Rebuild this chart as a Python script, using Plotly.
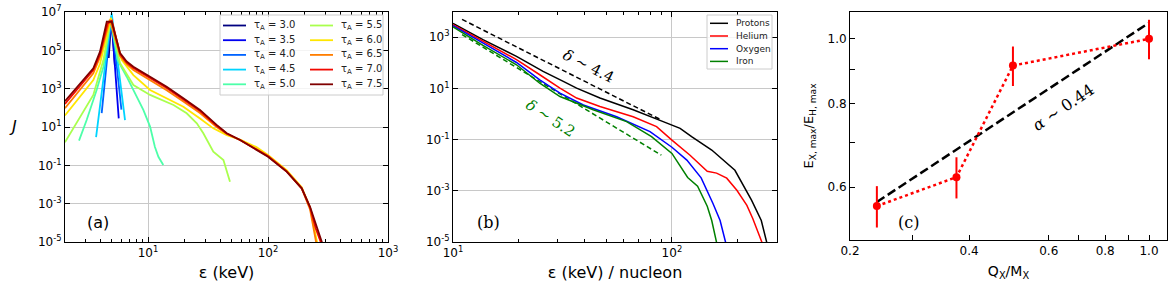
import plotly.graph_objects as go

W, H = 1172, 287

# ---------------- Panel (a): spectra at different tau_A ----------------
tau_labels = ["3.0", "3.5", "4.0", "4.5", "5.0", "5.5", "6.0", "6.5", "7.0", "7.5"]
tau_colors = ["#000080", "#0000f1", "#0063ff", "#00d4ff", "#4dffa9",
              "#a9ff4d", "#ffe600", "#ff7e00", "#f10800", "#800000"]

e_30 = [4.70, 4.95, 5.30]
j_30 = [4.0e4, 4.5e6, 1.5e4]
e_35 = [4.58, 4.95, 5.70]
j_35 = [5.8e4, 5.0e6, 28]
e_40 = [4.11, 4.95, 6.00]
j_40 = [53, 6.0e6, 80]
e_45 = [3.69, 4.98, 6.43]
j_45 = [3.0, 8.5e6, 23]
e_50 = [2.66, 3.08, 3.73, 4.25, 4.85, 5.6, 6.64, 8.05, 9.14, 10.4, 11.4, 12.2, 13.4]
j_50 = [1.95, 23, 850, 1.4e4, 4.0e6, 3.0e4, 4.2e3, 380, 78, 10.5, 0.93, 0.28, 0.105]
e_55 = [2.03, 3.5, 4.24, 4.9, 5.85, 7.55, 10.4, 16.3, 21.0, 25.5, 28.9, 35.0, 42.5, 48.2]
j_55 = [1.6, 470, 3.0e4, 4.0e6, 2.1e4, 1.55e3, 470, 140, 52, 15.5, 4.7, 0.51, 0.19, 0.014]
e_60 = [2.03, 3.5, 3.98, 4.9, 6.03, 7.55, 10.4, 14.3, 19.7, 27.1, 35.0, 45.3, 58.5, 80,
        100, 143, 191, 224, 245, 262]
j_60 = [40, 2.8e3, 2.0e4, 5.0e6, 3.2e4, 5.1e3, 850, 316, 115, 28, 8.5, 3.8, 2.2, 0.89,
        0.35, 0.056, 7.1e-3, 6.3e-4, 5e-5, 5e-6]
e_65 = [2.03, 3.5, 3.98, 4.8, 5.85, 6.64, 7.55, 10.4, 14.3, 19.7, 27.1, 37.3, 45.3, 58.5,
        100, 143, 191, 224, 245, 255]
j_65 = [95, 6.3e3, 4.5e4, 4.0e6, 5.0e4, 1.9e4, 9.5e3, 2.8e3, 830, 214, 54, 10, 4.3, 2.1,
        0.32, 0.05, 6.3e-3, 5e-4, 3.2e-5, 6.3e-6]
e_70 = [2.03, 3.5, 3.98, 4.6, 5.0, 5.85, 6.64, 7.55, 10.4, 14.3, 19.7, 27.1, 37.3, 45.3,
        58.5, 100, 143, 191, 224, 250, 275, 290]
j_70 = [160, 9.3e3, 6.3e4, 2.5e6, 3.5e6, 6.3e4, 2.3e4, 1.2e4, 3.6e3, 1.07e3, 270, 68, 11.7,
        4.6, 2.1, 0.3, 0.048, 6.3e-3, 6.3e-4, 5e-5, 1e-5, 3.2e-6]
e_75 = [2.03, 3.50, 3.98, 4.53, 4.98, 5.85, 6.64, 7.55, 10.4, 14.3, 19.7, 27.1, 37.3, 45.3,
        58.5, 100, 143, 191, 224, 255, 281, 295]
j_75 = [224, 1.15e4, 8.5e4, 3.1e6, 3.1e6, 7.1e4, 2.6e4, 1.4e4, 4.2e3, 1.26e3, 316, 78, 12.9,
        4.7, 2.1, 0.28, 0.047, 6.3e-3, 6.9e-4, 6.3e-5, 1.3e-5, 4e-6]

energies_a = [e_30, e_35, e_40, e_45, e_50, e_55, e_60, e_65, e_70, e_75]
fluxes_a = [j_30, j_35, j_40, j_45, j_50, j_55, j_60, j_65, j_70, j_75]

# ---------------- Panel (b): species spectra ----------------
species = ["Protons", "Helium", "Oxygen", "Iron"]
species_colors = ["#000000", "#ff0000", "#0000ff", "#008000"]

e_p = [10, 13.7, 19.5, 25.8, 31.9, 36.7, 46.9, 66.5, 91.2, 109, 123, 152, 194, 231, 256, 271]
j_p = [3390, 794, 178, 45.7, 18.6, 10.2, 4.17, 1.45, 0.50, 0.275, 0.129, 0.039, 6.3e-3,
       4.3e-4, 6.9e-5, 9.8e-6]
e_he = [10, 13.7, 19.5, 24.9, 30.8, 36.7, 46.9, 66.5, 85.1, 100, 121, 145, 160, 178, 198,
        220, 234, 258]
j_he = [3090, 692, 132, 33.9, 10.2, 4.17, 1.95, 0.78, 0.32, 0.095, 0.0245, 5.75e-3, 4.9e-3,
        3.1e-3, 1.05e-3, 2.7e-4, 8.3e-5, 9.5e-6]
e_o = [10, 13.7, 19.5, 24.9, 30.8, 39.4, 55.9, 79.4, 100, 117, 136, 154, 166, 176]
j_o = [2820, 589, 102, 21.4, 6.46, 2.24, 0.776, 0.204, 0.050, 0.0158, 3.2e-3, 3.2e-4,
       6.9e-5, 9.5e-6]
e_fe = [10, 13.7, 19.5, 24.9, 30.8, 43.7, 62.1, 80.7, 100, 118, 131, 145, 152, 160]
j_fe = [2510, 479, 83.2, 15.8, 4.79, 1.45, 0.50, 0.129, 0.0288, 3.3e-3, 1.5e-3, 2.5e-4,
        6.9e-5, 9.5e-6]
energies_b = [e_p, e_he, e_o, e_fe]
fluxes_b = [j_p, j_he, j_o, j_fe]

fit_p_e = [11.0, 89.5]
fit_p_j = [4900, 0.58]
fit_fe_e = [11.0, 89.5]
fit_fe_j = [1260, 0.0245]

# ---------------- Panel (c): max energy ratio vs Q/M ----------------
qm = [0.25, 0.375, 0.5, 1.0]
emax_ratio = [0.562, 0.621, 0.912, 1.0]
emax_err = [0.040, 0.044, 0.062, 0.068]
fit_qm = [0.25, 1.0]
fit_ratio = [0.570, 1.057]


def px(x):
    return x / W


def py(y):
    return 1 - y / H


fig = go.Figure()

for lab, col, e, j in zip(tau_labels, tau_colors, energies_a, fluxes_a):
    fig.add_trace(go.Scatter(x=e, y=j, mode="lines", name="τA = " + lab,
                             line=dict(color=col, width=1.8), showlegend=False,
                             xaxis="x", yaxis="y"))

fig.add_trace(go.Scatter(x=fit_p_e, y=fit_p_j, mode="lines", showlegend=False,
                         line=dict(color="black", width=1.5, dash="5px,3px"),
                         xaxis="x2", yaxis="y2"))
fig.add_trace(go.Scatter(x=fit_fe_e, y=fit_fe_j, mode="lines", showlegend=False,
                         line=dict(color="#008000", width=1.5, dash="5px,3px"),
                         xaxis="x2", yaxis="y2"))
for lab, col, e, j in zip(species, species_colors, energies_b, fluxes_b):
    fig.add_trace(go.Scatter(x=e, y=j, mode="lines", name=lab,
                             line=dict(color=col, width=1.5), showlegend=False,
                             xaxis="x2", yaxis="y2"))

fig.add_trace(go.Scatter(x=fit_qm, y=fit_ratio, mode="lines", showlegend=False,
                         line=dict(color="black", width=2.5, dash="9px,4px"),
                         xaxis="x3", yaxis="y3"))
fig.add_trace(go.Scatter(x=qm, y=emax_ratio, mode="lines+markers", showlegend=False,
                         line=dict(color="#ff0000", width=2.5, dash="dot"),
                         marker=dict(color="#ff0000", size=8),
                         error_y=dict(type="data", array=emax_err, color="#ff0000",
                                      thickness=2, width=0),
                         xaxis="x3", yaxis="y3"))

tickfont = dict(family="DejaVu Sans", size=12, color="black")


def sup(n):
    return "10<sup>%d</sup>" % n


common = dict(showline=True, linecolor="black", linewidth=1, ticks="inside",
              tickcolor="black", ticklen=5, tickwidth=1, tickfont=tickfont,
              zeroline=False, automargin=False)

a_y_exp = [-5, -3, -1, 1, 3, 5, 7]
b_y_exp = [-5, -3, -1, 1, 3]
a_minor = [3, 4, 5, 6, 7, 8, 9, 20, 30, 40, 50, 60, 70, 80, 90,
           200, 300, 400, 500, 600, 700, 800, 900]
b_minor = [20, 30, 40, 50, 60, 70, 80, 90, 200, 300]
c_x_major = [0.218, 0.4, 0.6, 0.8, 1.0]
c_x_labels = ["0.2", "0.4", "0.6", "0.8", "1.0"]
c_x_minor = [0.3, 0.7, 0.9]
c_y_major = [0.6, 0.8, 1.0]
c_y_labels = ["0.6", "0.8", "1.0"]
c_y_minor = [0.7, 0.9]

fig.update_layout(
    template="none",
    width=W, height=H, margin=dict(l=0, r=0, t=0, b=0, autoexpand=False),
    paper_bgcolor="white", plot_bgcolor="white",
    font=dict(family="DejaVu Sans", color="black"),
    xaxis=dict(type="log", range=[0.308, 3.0], domain=[px(65), px(388)], anchor="y",
               mirror="allticks", showgrid=True, gridcolor="#c8c8c8", gridwidth=1.3,
               tickvals=[10, 100, 1000], ticktext=[sup(1), sup(2), sup(3)],
               minor=dict(tickvals=a_minor, ticks="inside", ticklen=3,
                          tickcolor="black", showgrid=False),
               title=dict(text="ε (keV)", font=dict(size=16), standoff=7), **common),
    yaxis=dict(type="log", range=[-5, 7], domain=[py(242), py(12)], anchor="x",
               mirror="allticks", showgrid=True, gridcolor="#c8c8c8", gridwidth=1.3,
               tickvals=[10 ** k for k in a_y_exp], ticktext=[sup(k) for k in a_y_exp],
               **common),
    xaxis2=dict(type="log", range=[1.0, 2.48], domain=[px(453), px(777)], anchor="y2",
                mirror="allticks", showgrid=True, gridcolor="#c8c8c8", gridwidth=1.3,
                tickvals=[10, 100], ticktext=[sup(1), sup(2)],
                minor=dict(tickvals=b_minor, ticks="inside", ticklen=3,
                           tickcolor="black", showgrid=False),
                title=dict(text="ε (keV) / nucleon", font=dict(size=16), standoff=7),
                **common),
    yaxis2=dict(type="log", range=[-5, 3.98], domain=[py(242), py(12)], anchor="x2",
                mirror="allticks", showgrid=True, gridcolor="#c8c8c8", gridwidth=1.3,
                tickvals=[10 ** k for k in b_y_exp], ticktext=[sup(k) for k in b_y_exp],
                **common),
    xaxis3=dict(type="log", range=[-0.6615, 0.0398], domain=[px(850), px(1167)],
                anchor="y3", mirror=True, showgrid=False,
                tickvals=c_x_major, ticktext=c_x_labels,
                minor=dict(tickvals=c_x_minor, ticks="inside", ticklen=5,
                           tickcolor="black", showgrid=False),
                title=dict(text="Q<sub>X</sub>/M<sub>X</sub>", font=dict(size=14),
                           standoff=8), **common),
    yaxis3=dict(type="log", range=[-0.301, 0.0402], domain=[py(240), py(12)], anchor="x3",
                mirror=True, showgrid=False,
                tickvals=c_y_major, ticktext=c_y_labels,
                minor=dict(tickvals=c_y_minor, ticks="inside", ticklen=5,
                           tickcolor="black", showgrid=False),
                title=dict(text="E<sub>X, max</sub>/E<sub>H, max</sub>",
                           font=dict(size=13), standoff=10), **common),
)

shapes = []
annotations = []

# legend (a): two columns of five entries
shapes.append(dict(type="rect", xref="paper", yref="paper", x0=px(220), x1=px(383),
                   y0=py(95), y1=py(15), line=dict(color="#cccccc", width=1),
                   fillcolor="rgba(255,255,255,0.8)", layer="above"))
for i, (lab, col) in enumerate(zip(tau_labels, tau_colors)):
    col_i, row_i = divmod(i, 5)
    yy = 25.5 + 14.7 * row_i
    x0 = 223 if col_i == 0 else 310
    shapes.append(dict(type="line", xref="paper", yref="paper", x0=px(x0),
                       x1=px(x0 + 23), y0=py(yy), y1=py(yy),
                       line=dict(color=col, width=1.8), layer="above"))
    annotations.append(dict(xref="paper", yref="paper", x=px(x0 + 29), y=py(yy),
                            xanchor="left", yanchor="middle", showarrow=False,
                            text="τ<sub>A</sub> = " + lab,
                            font=dict(family="DejaVu Sans", size=10, color="#222")))

# legend (b)
shapes.append(dict(type="rect", xref="paper", yref="paper", x0=px(707), x1=px(772),
                   y0=py(69), y1=py(15), line=dict(color="#cccccc", width=1),
                   fillcolor="rgba(255,255,255,0.8)", layer="above"))
for i, (lab, col) in enumerate(zip(species, species_colors)):
    yy = 23.3 + 12.7 * i
    shapes.append(dict(type="line", xref="paper", yref="paper", x0=px(710),
                       x1=px(728), y0=py(yy), y1=py(yy),
                       line=dict(color=col, width=1.5), layer="above"))
    annotations.append(dict(xref="paper", yref="paper", x=px(734), y=py(yy),
                            xanchor="left", yanchor="middle", showarrow=False,
                            text=lab, font=dict(family="DejaVu Sans", size=9, color="#222")))


def label(x, y, text, size, family="DejaVu Serif", color="black", angle=0):
    return dict(xref="paper", yref="paper", x=px(x), y=py(y), text=text,
                showarrow=False, xanchor="center", yanchor="middle", textangle=angle,
                font=dict(family=family, size=size, color=color))


# panel labels, y label of (a) and slope annotations
annotations += [
    label(13, 127, "<i>J</i>", 16, family="DejaVu Sans"),
    label(98, 222, "(a)", 16, family="DejaVu Sans"),
    label(488, 222, "(b)", 16),
    label(908, 222, "(c)", 16),
    label(588, 66, "<i>δ</i> ~ 4.4", 15, angle=27),
    label(550, 118, "<i>δ</i> ~ 5.2", 15, color="#008000", angle=33),
    label(1063, 107, "<i>α</i> ~ 0.44", 16, angle=-34),
]

fig.update_layout(shapes=shapes, annotations=annotations)
fig.write_html("out.html",
               config={"displayModeBar": False},
               post_script="document.body.style.margin='0';"
                           "document.body.style.overflow='hidden';")
